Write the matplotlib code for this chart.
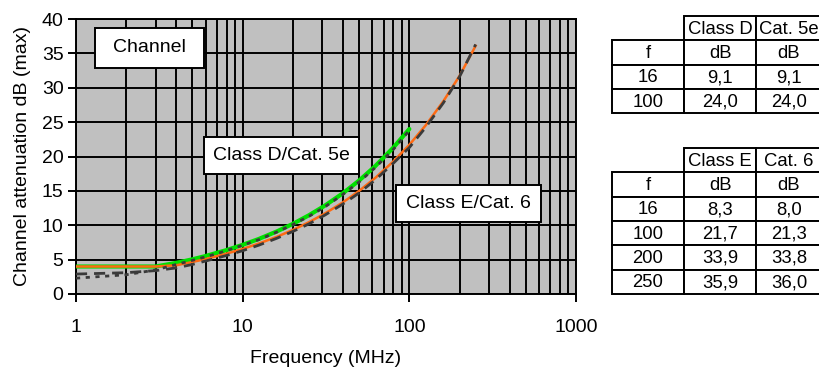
import matplotlib
matplotlib.use("Agg")
import matplotlib.pyplot as plt
from matplotlib.ticker import FixedLocator, LogLocator, FuncFormatter, NullFormatter
from matplotlib.patches import Rectangle

plt.rcParams['font.family'] = ['Liberation Sans', 'DejaVu Sans']

# ---- data ----
freq_d = [1, 2, 3, 4, 5, 6, 8, 10, 12.5, 16, 20, 25, 31.25, 40, 50, 62.5, 80, 100]
class_d = [4.0, 4.0, 4.0, 4.53, 5.05, 5.53, 6.39, 7.15, 8.01, 9.09, 10.2, 11.46, 12.88, 14.67, 16.51, 18.61, 21.27, 24.0]
cat5e = [2.3, 2.8, 3.5, 4.3, 4.9, 5.4, 6.3, 7.1, 7.9, 9.0, 10.1, 11.3, 12.7, 14.5, 16.3, 18.4, 21.0, 23.8]

freq_e = [1, 2, 3, 4, 5, 6, 8, 10, 12.5, 16, 20, 25, 31.25, 40, 50, 62.5, 80, 100, 125, 160, 200, 250]
class_e = [4.0, 4.0, 4.0, 4.18, 4.66, 5.09, 5.87, 6.56, 7.34, 8.31, 9.32, 10.45, 11.73, 13.34, 15.0, 16.89, 19.26, 21.7, 24.5, 28.04, 31.72, 36.1]
cat6 = [2.9, 3.1, 3.4, 3.8, 4.3, 4.8, 5.6, 6.3, 7.1, 8.1, 9.1, 10.2, 11.5, 13.1, 14.7, 16.6, 19.0, 21.3, 24.2, 27.8, 31.6, 36.3]

x_ticks = [1, 10, 100, 1000]
y_ticks = [0, 5, 10, 15, 20, 25, 30, 35, 40]

table1_header = ["", "Class D", "Cat. 5e"]
table1_rows = [["f", "dB", "dB"], ["16", "9,1", "9,1"], ["100", "24,0", "24,0"]]
table2_header = ["", "Class E", "Cat. 6"]
table2_rows = [["f", "dB", "dB"], ["16", "8,3", "8,0"], ["100", "21,7", "21,3"],
               ["200", "33,9", "33,8"], ["250", "35,9", "36,0"]]

labels = ["Channel", "Class D/Cat. 5e", "Class E/Cat. 6"]

FS = 14
TFS = 13.3

# ---- figure ----
W, H = 819, 369
fig = plt.figure(figsize=(W / 100, H / 100), dpi=100)
ax = fig.add_axes([76 / W, 1 - 294 / H, 500 / W, 275 / H])
ax.set_facecolor('#C0C0C0')
ax.set_xscale('log')
ax.set_xlim(1, 1000)
ax.set_ylim(0, 40)

ax.xaxis.set_major_locator(FixedLocator(x_ticks))
ax.xaxis.set_minor_locator(LogLocator(base=10, subs=range(2, 10)))
ax.xaxis.set_major_formatter(FuncFormatter(lambda v, p: f"{v:g}"))
ax.xaxis.set_minor_formatter(NullFormatter())
ax.yaxis.set_major_locator(FixedLocator(y_ticks))

ax.grid(True, which='major', axis='both', color='black', linewidth=1.4)
ax.grid(True, which='minor', axis='x', color='black', linewidth=1.4)
ax.set_axisbelow(True)
for s in ax.spines.values():
    s.set_color('black')
    s.set_linewidth(1.4)
ax.tick_params(axis='both', which='major', direction='out', length=6, width=1.4,
               labelsize=FS, colors='black', pad=3)
ax.tick_params(axis='x', which='minor', length=0)
ax.tick_params(axis='x', which='major', pad=12)

ax.plot(freq_d, class_d, color='#00E000', linewidth=3.0, zorder=3, solid_capstyle='round')
ax.plot(freq_e, class_e, color='#FF6A13', linewidth=1.8, zorder=4)
ax.plot(freq_d, cat5e, color='#3A3A3A', linewidth=2.0, linestyle=(0, (1.5, 2.0)), zorder=5)
ax.plot(freq_e, cat6, color='#3A3A3A', linewidth=2.0, linestyle=(0, (4, 2.5)), zorder=5)

ax.set_xlabel("Frequency (MHz)", fontsize=FS, labelpad=10)
ax.set_ylabel("Channel attenuation dB (max)", fontsize=FS, labelpad=8)

# ---- overlay in pixel coordinates for boxes and tables ----
ov = fig.add_axes([0, 0, 1, 1], facecolor='none')
ov.set_xlim(0, W)
ov.set_ylim(H, 0)
ov.axis('off')


def box(x0, y0, x1, y1, text):
    ov.add_patch(Rectangle((x0, y0), x1 - x0, y1 - y0, facecolor='white',
                           edgecolor='black', linewidth=1.4, zorder=10))
    ov.text((x0 + x1) / 2, (y0 + y1) / 2, text, ha='center', va='center',
            fontsize=FS, zorder=11)


box(95, 28, 204, 68, labels[0])
box(204, 137, 359, 174, labels[1])
box(396, 185, 541, 222, labels[2])


def table(y0, header, rows, x_cols=(612, 684, 756, 822), row_h=24.3):
    for j in range(1, 3):
        ov.add_patch(Rectangle((x_cols[j], y0), x_cols[j + 1] - x_cols[j], row_h,
                               facecolor='white', edgecolor='black', linewidth=1.4,
                               zorder=10, clip_on=False))
        ov.text((x_cols[j] + x_cols[j + 1]) / 2, y0 + row_h / 2 + 1, header[j],
                ha='center', va='center', fontsize=TFS, zorder=11, clip_on=False)
    for i, row in enumerate(rows):
        yy = y0 + row_h * (i + 1)
        for j in range(3):
            ov.add_patch(Rectangle((x_cols[j], yy), x_cols[j + 1] - x_cols[j], row_h,
                                   facecolor='white', edgecolor='black', linewidth=1.4,
                                   zorder=10, clip_on=False))
            ov.text((x_cols[j] + x_cols[j + 1]) / 2, yy + row_h / 2 + 1, row[j],
                    ha='center', va='center', fontsize=TFS, zorder=11, clip_on=False)


table(16, table1_header, table1_rows)
table(148, table2_header, table2_rows)

fig.savefig("out.png", dpi=100)
